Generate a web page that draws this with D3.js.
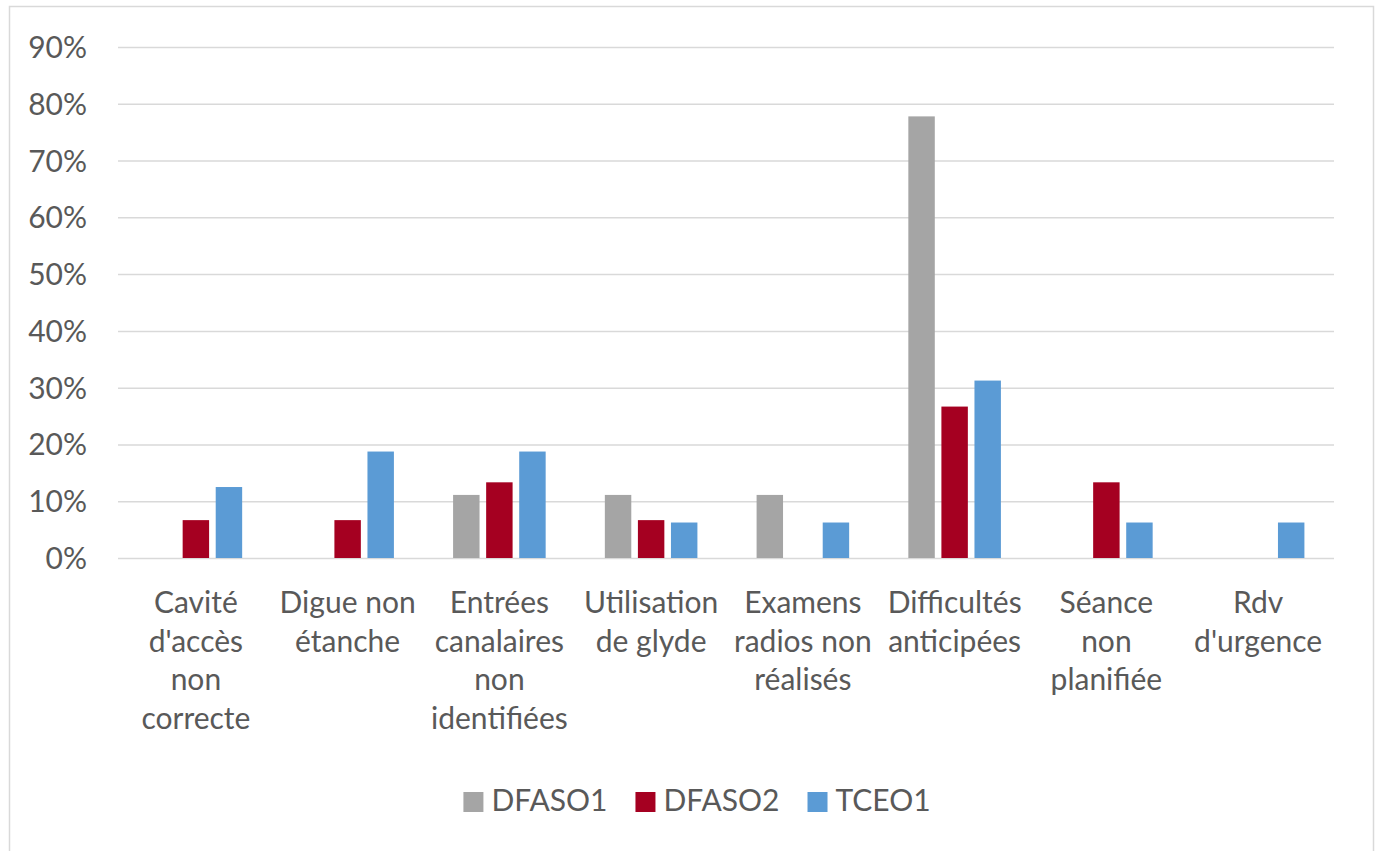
<!DOCTYPE html>
<html>
<head>
<meta charset="utf-8">
<script src="https://cdn.jsdelivr.net/npm/d3@7"></script>
<style>
  html, body { margin: 0; padding: 0; background: #fff; }
  svg { display: block; }
  text { font-family: Lato, "Open Sans", sans-serif; fill: #595959; }
</style>
</head>
<body>
<svg id="chart" width="1378" height="851"></svg>
<script>
// ---- data ----
const categories = [
  "Cavité d'accès non correcte",
  "Digue non étanche",
  "Entrées canalaires non identifiées",
  "Utilisation de glyde",
  "Examens radios non réalisés",
  "Difficultés anticipées",
  "Séance non planifiée",
  "Rdv d'urgence"
];
const categoryLines = [
  ["Cavité", "d'accès", "non", "correcte"],
  ["Digue non", "étanche"],
  ["Entrées", "canalaires", "non", "identifiées"],
  ["Utilisation", "de glyde"],
  ["Examens", "radios non", "réalisés"],
  ["Difficultés", "anticipées"],
  ["Séance", "non", "planifiée"],
  ["Rdv", "d'urgence"]
];
const seriesNames = ["DFASO1", "DFASO2", "TCEO1"];
const DFASO1 = [0, 0, 0.1111, 0.1111, 0.1111, 0.7778, 0, 0];
const DFASO2 = [0.0667, 0.0667, 0.1333, 0.0667, 0, 0.2667, 0.1333, 0];
const TCEO1  = [0.125, 0.1875, 0.1875, 0.0625, 0.0625, 0.3125, 0.0625, 0.0625];
const seriesColors = ["#A5A5A5", "#A50021", "#5B9BD5"];
const yTicks = [0, 0.1, 0.2, 0.3, 0.4, 0.5, 0.6, 0.7, 0.8, 0.9];
const yTickLabels = ["0%", "10%", "20%", "30%", "40%", "50%", "60%", "70%", "80%", "90%"];

const seriesValues = [DFASO1, DFASO2, TCEO1];

// ---- layout ----
const svg = d3.select("#chart");
const plot = { left: 120, right: 1334, top: 47, bottom: 558 };
const fontSize = 30;

// chart frame
svg.append("rect")
  .attr("x", 9.5).attr("y", 6.5)
  .attr("width", 1364).attr("height", 870)
  .attr("fill", "#fff").attr("stroke", "#D9D9D9").attr("stroke-width", 1.5);

const y = d3.scaleLinear().domain([0, 0.9]).range([plot.bottom, plot.top]);
const x0 = d3.scaleBand().domain(categories).range([plot.left, plot.right]).paddingInner(0).paddingOuter(0);
const groupFrac = 0.61;
const x1 = d3.scaleBand().domain(seriesNames)
  .range([x0.bandwidth() * (1 - groupFrac) / 2, x0.bandwidth() * (1 + groupFrac) / 2])
  .paddingInner(0.2).paddingOuter(0);

// gridlines
const yAxis = d3.axisLeft(y).tickValues(yTicks)
  .tickSize(-(plot.right - plot.left + 2))
  .tickFormat((d, i) => yTickLabels[i]);
const gy = svg.append("g").attr("transform", `translate(${plot.left - 2},0)`).call(yAxis);
gy.select(".domain").remove();
gy.selectAll(".tick line").attr("stroke", "#D9D9D9").attr("stroke-width", 1.5);
gy.selectAll(".tick text")
  .attr("x", -31).attr("dy", "0.35em")
  .style("font-size", fontSize + "px")
  .attr("fill", "#595959");

// bars
const groups = svg.append("g").selectAll("g")
  .data(categories)
  .join("g")
  .attr("transform", d => `translate(${x0(d)},0)`);

groups.selectAll("rect")
  .data((c, ci) => seriesNames.map((s, si) => ({ s, si, v: seriesValues[si][ci] })))
  .join("rect")
  .filter(d => d.v > 0)
  .attr("x", d => x1(d.s))
  .attr("width", x1.bandwidth())
  .attr("y", d => y(d.v))
  .attr("height", d => y(0) - y(d.v))
  .attr("fill", d => seriesColors[d.si]);

// category labels
const lineH = 38.7;
const labels = svg.append("g").selectAll("text")
  .data(categories)
  .join("text")
  .attr("text-anchor", "middle")
  .style("font-size", fontSize + "px")
  .attr("transform", d => `translate(${x0(d) + x0.bandwidth() / 2},${plot.bottom + 55})`);
labels.each(function(d, i) {
  d3.select(this).selectAll("tspan")
    .data(categoryLines[i])
    .join("tspan")
    .attr("x", 0)
    .attr("y", (t, j) => j * lineH)
    .text(t => t);
});

// legend
const legend = svg.append("g");
const items = legend.selectAll("g").data(seriesNames).join("g");
items.append("rect")
  .attr("width", 20).attr("height", 20)
  .attr("y", -19)
  .attr("fill", (d, i) => seriesColors[i]);
items.append("text")
  .attr("x", 28).attr("y", 0)
  .style("font-size", fontSize + "px")
  .text(d => d);
let xpos = 0;
const gap = 28;
items.each(function() {
  const g = d3.select(this);
  g.attr("transform", `translate(${xpos},0)`);
  const w = 28 + g.select("text").node().getComputedTextLength();
  xpos += w + gap;
});
const totalW = xpos - gap;
legend.attr("transform", `translate(${697 - totalW / 2},811)`);
</script>
</body>
</html>
